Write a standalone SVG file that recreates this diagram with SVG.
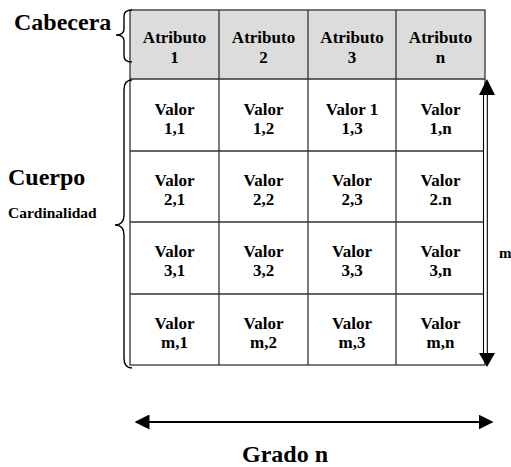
<svg xmlns="http://www.w3.org/2000/svg" width="511" height="467" viewBox="0 0 511 467">
  <style>
    text { font-weight: bold; fill: #000; }
    .cell { font-size: 17px; text-anchor: middle; }
    .hdr { fill: #dcdcdc; }
    .grid { stroke: #333; stroke-width: 1.3; fill: none; }
    .brace { stroke: #000; stroke-width: 1.4; fill: none; }
    .arrow { stroke: #000; stroke-width: 1.8; fill: none; }
    .tip { fill: #000; }
  </style>
  <defs>
    <marker id="head" viewBox="0 0 10 10" refX="9" refY="5" markerWidth="15" markerHeight="15" markerUnits="userSpaceOnUse" orient="auto-start-reverse">
      <path d="M0,0 L10,5 L0,10 Z" fill="#000"/>
    </marker>
  </defs>

  <!-- header band -->
  <rect class="hdr" x="130" y="10" width="355" height="69"/>

  <!-- table grid -->
  <g id="table-grid">
    <rect class="grid" x="130" y="10" width="355" height="355" stroke-width="1.6"/>
    <line class="grid" x1="219" y1="10" x2="219" y2="365"/>
    <line class="grid" x1="308" y1="10" x2="308" y2="365"/>
    <line class="grid" x1="396" y1="10" x2="396" y2="365"/>
    <line class="grid" x1="130" y1="79" x2="485" y2="79" stroke-width="1.8"/>
    <line class="grid" x1="130" y1="151" x2="485" y2="151"/>
    <line class="grid" x1="130" y1="222" x2="485" y2="222"/>
    <line class="grid" x1="130" y1="294" x2="485" y2="294"/>
  </g>

  <g font-family="'Liberation Serif', 'DejaVu Serif', serif">
  <!-- header cells -->
  <g id="attr-1"><text class="cell" x="174.5" y="43">Atributo</text><text class="cell" x="174.5" y="63">1</text></g>
  <g id="attr-2"><text class="cell" x="263.5" y="43">Atributo</text><text class="cell" x="263.5" y="63">2</text></g>
  <g id="attr-3"><text class="cell" x="352" y="43">Atributo</text><text class="cell" x="352" y="63">3</text></g>
  <g id="attr-n"><text class="cell" x="440.5" y="43">Atributo</text><text class="cell" x="440.5" y="63">n</text></g>

  <!-- row 1 -->
  <g id="v-1-1"><text class="cell" x="174.5" y="115">Valor</text><text class="cell" x="174.5" y="134">1,1</text></g>
  <g id="v-1-2"><text class="cell" x="263.5" y="115">Valor</text><text class="cell" x="263.5" y="134">1,2</text></g>
  <g id="v-1-3"><text class="cell" x="352" y="115">Valor 1</text><text class="cell" x="352" y="134">1,3</text></g>
  <g id="v-1-n"><text class="cell" x="440.5" y="115">Valor</text><text class="cell" x="440.5" y="134">1,n</text></g>

  <!-- row 2 -->
  <g id="v-2-1"><text class="cell" x="174.5" y="186">Valor</text><text class="cell" x="174.5" y="205">2,1</text></g>
  <g id="v-2-2"><text class="cell" x="263.5" y="186">Valor</text><text class="cell" x="263.5" y="205">2,2</text></g>
  <g id="v-2-3"><text class="cell" x="352" y="186">Valor</text><text class="cell" x="352" y="205">2,3</text></g>
  <g id="v-2-n"><text class="cell" x="440.5" y="186">Valor</text><text class="cell" x="440.5" y="205">2.n</text></g>

  <!-- row 3 -->
  <g id="v-3-1"><text class="cell" x="174.5" y="257">Valor</text><text class="cell" x="174.5" y="276">3,1</text></g>
  <g id="v-3-2"><text class="cell" x="263.5" y="257">Valor</text><text class="cell" x="263.5" y="276">3,2</text></g>
  <g id="v-3-3"><text class="cell" x="352" y="257">Valor</text><text class="cell" x="352" y="276">3,3</text></g>
  <g id="v-3-n"><text class="cell" x="440.5" y="257">Valor</text><text class="cell" x="440.5" y="276">3,n</text></g>

  <!-- row m -->
  <g id="v-m-1"><text class="cell" x="174.5" y="329">Valor</text><text class="cell" x="174.5" y="348">m,1</text></g>
  <g id="v-m-2"><text class="cell" x="263.5" y="329">Valor</text><text class="cell" x="263.5" y="348">m,2</text></g>
  <g id="v-m-3"><text class="cell" x="352" y="329">Valor</text><text class="cell" x="352" y="348">m,3</text></g>
  <g id="v-m-n"><text class="cell" x="440.5" y="329">Valor</text><text class="cell" x="440.5" y="348">m,n</text></g>

  <!-- side labels -->
  <g id="label-cabecera"><text x="14" y="30" font-size="24">Cabecera</text></g>
  <g id="label-cuerpo">
    <text x="8" y="185" font-size="24">Cuerpo</text>
    <text x="8" y="218" font-size="15.5">Cardinalidad</text>
  </g>
  <g id="label-m"><text x="499" y="258" font-size="15">m</text></g>
  <g id="label-grado"><text x="285" y="462" font-size="24" text-anchor="middle">Grado n</text></g>
  </g>

  <!-- braces and arrows -->
  <g id="connectors">
    <path class="brace" d="M132,10 Q124,10 124,16 L124,29 Q124,35 116,35 Q124,35 124,41 L124,56 Q124,62 132,62"/>
    <path class="brace" d="M132,80 Q124,80 124,90 L124,215 Q124,225 115,225 Q124,225 124,235 L124,358 Q124,368 132,368"/>
    <!-- hollow double-line shaft for the row-count arrow -->
    <rect x="483.5" y="94" width="3.8" height="260" fill="#fff" stroke="#000" stroke-width="1.1"/>
    <polygon class="tip" points="487,79 479,95 495,95"/>
    <polygon class="tip" points="487,367 479,353 495,353"/>
    <line class="arrow" x1="136" y1="422" x2="492" y2="422" marker-start="url(#head)" marker-end="url(#head)"/>
  </g>
</svg>
